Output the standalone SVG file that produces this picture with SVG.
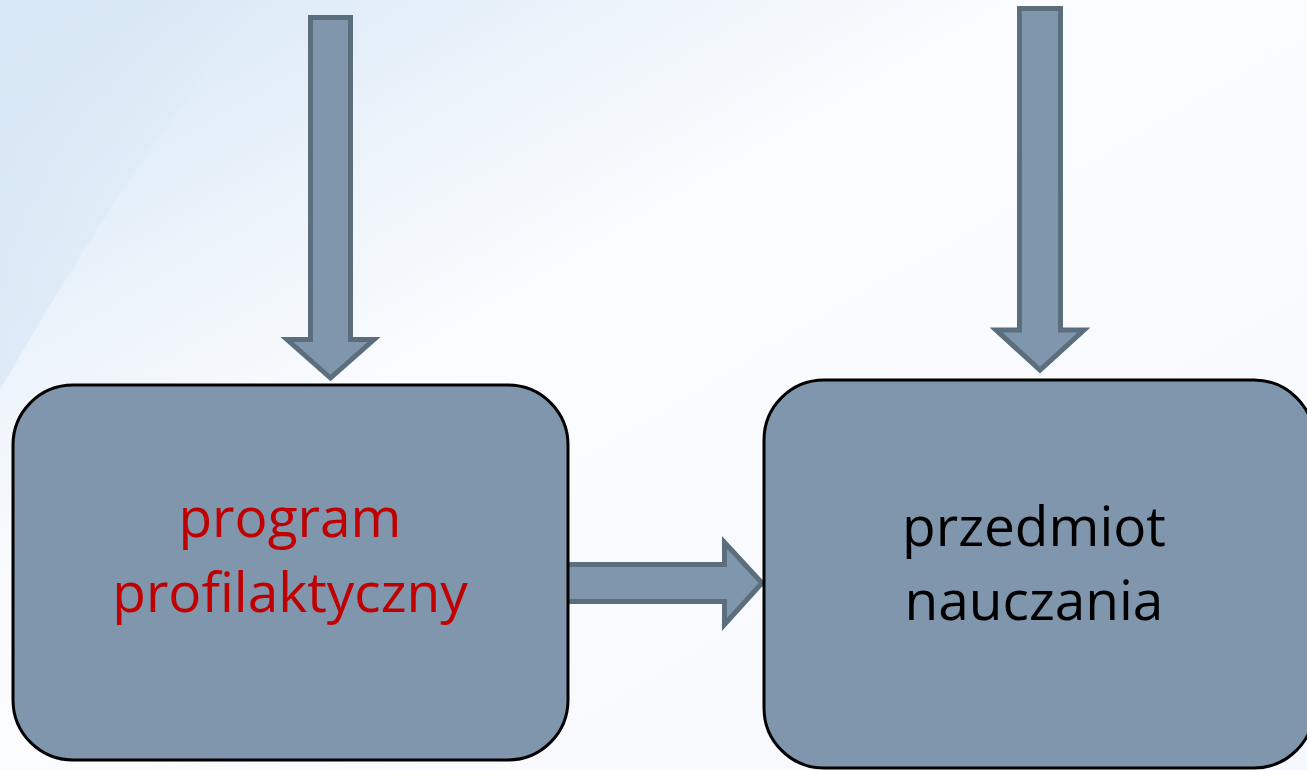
<svg xmlns="http://www.w3.org/2000/svg" width="1307" height="770" viewBox="0 0 1307 770">
<defs>
<linearGradient id="bg" x1="0" y1="0" x2="1" y2="1">
<stop offset="0" stop-color="#d5e5f4"/>
<stop offset="0.25" stop-color="#edf4fb"/>
<stop offset="0.4" stop-color="#fbfcfe"/>
<stop offset="1" stop-color="#f5f8fc"/>
</linearGradient>
<linearGradient id="band" x1="0" y1="0" x2="1" y2="0">
<stop offset="0" stop-color="#d9e8f6" stop-opacity="0.8"/>
<stop offset="1" stop-color="#d9e8f6" stop-opacity="0"/>
</linearGradient>
<style>
.arrow{fill:#7f96ad;stroke:#5b6e7e;stroke-width:5;stroke-linejoin:miter}
.box{fill:#7f96ad;stroke:#000;stroke-width:3}
.lbl{font-family:"Open Sans","Liberation Sans",sans-serif;font-size:55px;text-anchor:middle}
</style>
</defs>
<rect width="1307" height="770" fill="url(#bg)"/>
<path d="M0 0 H260 Q120 180 0 390 Z" fill="url(#band)"/>
<g id="connectors">
<polygon class="arrow" points="310.5,17.5 350.5,17.5 350.5,339.5 374,339.5 330.5,378 287,339.5 310.5,339.5"/>
<polygon class="arrow" points="1019.5,8.5 1060.5,8.5 1060.5,330 1084,330 1040,370 996,330 1019.5,330"/>
<polygon class="arrow" points="560,564.5 724.5,564.5 724.5,542.5 762,583 724.5,624.5 724.5,601.5 560,601.5"/>
</g>
<g id="node-program">
<rect class="box" x="13" y="385" width="555" height="375" rx="60" ry="60"/>
<text class="lbl" fill="#c00000" x="290" y="537">program</text>
<text class="lbl" fill="#c00000" x="290" y="612">profilaktyczny</text>
</g>
<g id="node-przedmiot">
<rect class="box" x="764" y="380" width="550" height="388" rx="60" ry="60"/>
<text class="lbl" fill="#000" x="1034" y="546">przedmiot</text>
<text class="lbl" fill="#000" x="1034" y="620">nauczania</text>
</g>
</svg>
